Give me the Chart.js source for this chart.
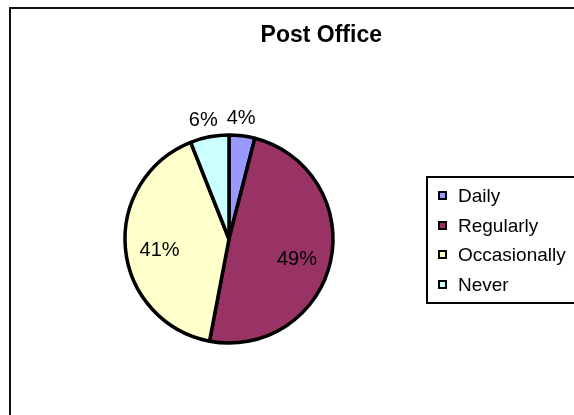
<!DOCTYPE html>
<html>
<head>
<meta charset="utf-8">
<script src="https://cdn.jsdelivr.net/npm/chart.js@4/dist/chart.umd.min.js"></script>
<style>
  html, body { margin: 0; padding: 0; background: #fff; overflow: hidden; }
  body { width: 574px; height: 415px; position: relative; font-family: "Liberation Sans", Arial, sans-serif; }
  #frame { position: absolute; left: 9px; top: 7px; width: 700px; height: 500px; border: 2px solid #111; }
  #chart { position: absolute; left: 0; top: 0; }
  #legend { position: absolute; left: 426px; top: 176px; width: 200px; height: 121px; border: 2px solid #000;
            padding-top: 3px; box-sizing: content-box; }
  .row { height: 29.5px; line-height: 29.5px; font-size: 19px; color: #000; white-space: nowrap; position: relative; }
  .sw { position: absolute; left: 10px; top: 10px; width: 5px; height: 5px; border: 2px solid #000; }
  .row span.t { position: absolute; left: 30px; }
</style>
</head>
<body>
<div id="frame"></div>
<canvas id="chart" width="574" height="415"></canvas>
<div id="legend"></div>
<script>
const categorias = ["Daily", "Regularly", "Occasionally", "Never"];
const valores = [4, 49, 41, 6];
const cores = ["#9999FF", "#993366", "#FFFFCC", "#CCFFFF"];
const titulo = "Post Office";

// === LEGENDA (html) ===
document.getElementById("legend").innerHTML = categorias.map((c, i) => `
    <div class="row"><div class="sw" style="background:${cores[i]}"></div><span class="t">${c}</span></div>
`).join("");

// rótulos de porcentagem: dentro das fatias grandes, fora das pequenas
const rotulosPlugin = {
    id: "rotulos",
    afterDatasetsDraw(chart) {
        const ctx = chart.ctx;
        const meta = chart.getDatasetMeta(0);
        const total = valores.reduce((a, b) => a + b, 0);
        ctx.save();
        ctx.font = '20px "Liberation Sans", Arial, sans-serif';
        ctx.fillStyle = "#000";
        ctx.textAlign = "center";
        ctx.textBaseline = "middle";
        meta.data.forEach((arc, i) => {
            const p = arc.getProps(["x", "y", "startAngle", "endAngle", "outerRadius"], true);
            const mid = (p.startAngle + p.endAngle) / 2;
            const pct = Math.round(valores[i] / total * 100);
            const fora = pct < 10;
            const dist = fora ? p.outerRadius + 17 : p.outerRadius * 0.67;
            const lx = p.x + Math.cos(mid) * dist - (fora ? 3 : 0);
            const ly = p.y + Math.sin(mid) * dist + (fora ? 0 : 5);
            ctx.fillText(pct + "%", lx, ly);
        });
        ctx.restore();
    }
};

const ctx = document.getElementById("chart").getContext("2d");
new Chart(ctx, {
    type: "pie",
    data: {
        labels: categorias,
        datasets: [{
            data: valores,
            backgroundColor: cores,
            borderColor: "#000",
            borderWidth: 3.5,
            radius: 104
        }]
    },
    options: {
        responsive: false,
        animation: false,
        events: [],
        layout: { padding: { left: 76, right: 192, top: 9, bottom: 72 } },
        plugins: {
            legend: { display: false },
            tooltip: { enabled: false },
            title: {
                display: true,
                text: titulo,
                align: "end",
                color: "#000",
                font: { family: '"Liberation Sans", Arial, sans-serif', size: 23, weight: "bold", lineHeight: 1.2 },
                padding: { top: 13.2, bottom: 85.2 }
            }
        }
    },
    plugins: [rotulosPlugin]
});
</script>
</body>
</html>
